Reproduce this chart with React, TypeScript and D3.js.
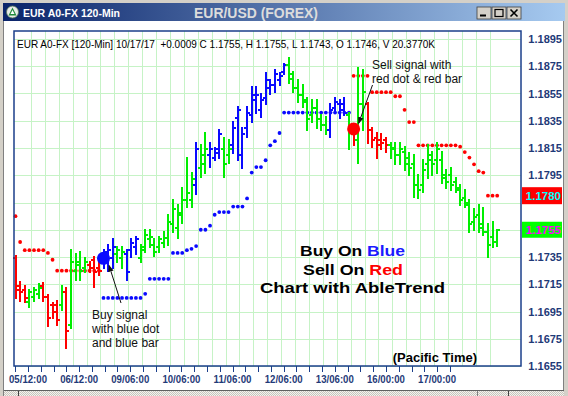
import * as d3 from 'd3';

const W = 568;
const H = 396;

// 120-min EUR/USD bars
const highs = [
  1.1736, 1.1717, 1.1714, 1.1711, 1.1712, 1.1715, 1.1716, 1.1707, 1.1701, 1.1703,
  1.1714, 1.1712, 1.1740, 1.1737, 1.1739, 1.1734, 1.1731, 1.1735, 1.1731, 1.1740,
  1.1744, 1.1748, 1.1742, 1.1742, 1.1740, 1.1748, 1.1750, 1.1744, 1.1755, 1.1755,
  1.1748, 1.1750, 1.1753, 1.1766, 1.1777, 1.1773, 1.1786, 1.1808, 1.1797, 1.1819,
  1.1817, 1.1826, 1.1819, 1.1815, 1.1828, 1.1822, 1.1821, 1.1834, 1.1845, 1.1830,
  1.1845, 1.1860, 1.1860, 1.1855, 1.1870, 1.1865, 1.1872, 1.1870, 1.1877, 1.1881,
  1.1871, 1.1865, 1.1861, 1.1852, 1.1850, 1.1850, 1.1839, 1.1838, 1.1847, 1.1852,
  1.1850, 1.1852, 1.1841, 1.1832, 1.1874, 1.1872, 1.1848, 1.1830, 1.1826, 1.1825,
  1.1822, 1.1819, 1.1819, 1.1819, 1.1816, 1.1811, 1.1810, 1.1795, 1.1806, 1.1817,
  1.1812, 1.1819, 1.1812, 1.1799, 1.1800, 1.1793, 1.1788, 1.1784, 1.1777, 1.1770,
  1.1773, 1.1771, 1.1759, 1.1761, 1.1755,
];
const lows = [
  1.1705, 1.1703, 1.1702, 1.1698, 1.1703, 1.1705, 1.1703, 1.1684, 1.1690, 1.1685,
  1.1696, 1.1668, 1.1683, 1.1718, 1.1718, 1.1724, 1.1724, 1.1713, 1.1722, 1.1727,
  1.1725, 1.1727, 1.1731, 1.1727, 1.1718, 1.1735, 1.1737, 1.1731, 1.1739, 1.1742,
  1.1736, 1.1739, 1.1742, 1.1744, 1.1753, 1.1749, 1.1760, 1.1772, 1.1772, 1.1781,
  1.1794, 1.1797, 1.1801, 1.1806, 1.1808, 1.1794, 1.1804, 1.1811, 1.1806, 1.1800,
  1.1823, 1.1834, 1.1841, 1.1838, 1.1847, 1.1855, 1.1856, 1.1861, 1.1869, 1.1863,
  1.1856, 1.1849, 1.1845, 1.1828, 1.1834, 1.1830, 1.1828, 1.1825, 1.1823, 1.1841,
  1.1837, 1.1839, 1.1814, 1.1817, 1.1804, 1.1828, 1.1819, 1.1816, 1.1808, 1.1814,
  1.1812, 1.1808, 1.1803, 1.1803, 1.1799, 1.1795, 1.1779, 1.1778, 1.1783, 1.1793,
  1.1795, 1.1797, 1.1789, 1.1786, 1.1784, 1.1783, 1.1773, 1.1772, 1.1753, 1.1755,
  1.1753, 1.1751, 1.1735, 1.1742, 1.1743,
];
const opens = [
  1.1734, 1.1714, 1.1711, 1.1702, 1.1706, 1.1708, 1.1714, 1.1706, 1.1700, 1.1700,
  1.1700, 1.1709, 1.1685, 1.1725, 1.1729, 1.1727, 1.1729, 1.1733, 1.1727, 1.1731,
  1.1731, 1.1734, 1.1737, 1.1734, 1.1737, 1.1740, 1.1742, 1.1734, 1.1742, 1.1748,
  1.1744, 1.1742, 1.1745, 1.1749, 1.1759, 1.1756, 1.1766, 1.1777, 1.1777, 1.1788,
  1.1800, 1.1803, 1.1810, 1.1808, 1.1814, 1.1814, 1.1810, 1.1817, 1.1837, 1.1810,
  1.1830, 1.1839, 1.1850, 1.1843, 1.1852, 1.1859, 1.1861, 1.1865, 1.1871, 1.1876,
  1.1866, 1.1859, 1.1854, 1.1849, 1.1839, 1.1844, 1.1836, 1.1832, 1.1828, 1.1844,
  1.1847, 1.1847, 1.1839, 1.1828, 1.1821, 1.1847, 1.1847, 1.1828, 1.1822, 1.1821,
  1.1821, 1.1817, 1.1815, 1.1810, 1.1812, 1.1808, 1.1803, 1.1788, 1.1788, 1.1803,
  1.1806, 1.1806, 1.1806, 1.1793, 1.1795, 1.1790, 1.1784, 1.1778, 1.1773, 1.1761,
  1.1766, 1.1759, 1.1753, 1.1750, 1.1746,
];
const closes = [
  1.1711, 1.1709, 1.1705, 1.1709, 1.1711, 1.1712, 1.1706, 1.1690, 1.1695, 1.1689,
  1.1709, 1.1681, 1.1731, 1.1731, 1.1725, 1.1731, 1.1727, 1.1724, 1.1725, 1.1739,
  1.1740, 1.1742, 1.1740, 1.1739, 1.1724, 1.1745, 1.1748, 1.1740, 1.1751, 1.1750,
  1.1739, 1.1748, 1.1749, 1.1761, 1.1770, 1.1767, 1.1777, 1.1782, 1.1792, 1.1814,
  1.1810, 1.1814, 1.1814, 1.1811, 1.1825, 1.1803, 1.1814, 1.1830, 1.1843, 1.1825,
  1.1841, 1.1854, 1.1854, 1.1850, 1.1865, 1.1861, 1.1869, 1.1868, 1.1876, 1.1869,
  1.1859, 1.1854, 1.1850, 1.1836, 1.1844, 1.1836, 1.1832, 1.1828, 1.1843, 1.1849,
  1.1843, 1.1841, 1.1830, 1.1821, 1.1847, 1.1856, 1.1828, 1.1821, 1.1817, 1.1819,
  1.1817, 1.1814, 1.1810, 1.1814, 1.1803, 1.1800, 1.1788, 1.1784, 1.1799, 1.1810,
  1.1803, 1.1814, 1.1795, 1.1790, 1.1788, 1.1786, 1.1777, 1.1775, 1.1759, 1.1764,
  1.1756, 1.1753, 1.1744, 1.1746, 1.1755,
];
// r = sell (red), g = neutral (green), b = buy (blue)
const barTrend = [
  'r', 'r', 'r', 'g', 'g', 'g', 'r', 'r', 'r', 'r',
  'g', 'r', 'g', 'g', 'g', 'g', 'r', 'r', 'r', 'b',
  'b', 'b', 'g', 'g', 'b', 'b', 'b', 'g', 'g', 'g',
  'g', 'g', 'g', 'g', 'g', 'g', 'g', 'g', 'g', 'b',
  'g', 'g', 'b', 'b', 'b', 'g', 'g', 'b', 'b', 'b',
  'b', 'b', 'b', 'b', 'b', 'b', 'b', 'b', 'b', 'g',
  'g', 'g', 'g', 'g', 'g', 'g', 'g', 'g', 'b', 'b',
  'b', 'b', 'g', 'r', 'g', 'g', 'r', 'r', 'r', 'r',
  'r', 'g', 'g', 'g', 'g', 'g', 'g', 'g', 'g', 'g',
  'g', 'g', 'g', 'g', 'g', 'g', 'g', 'g', 'g', 'g',
  'g', 'g', 'g', 'g', 'g',
];
// AbleTrend stop dots, one per bar
const stops = [
  1.1765, 1.1746, 1.1740, 1.1740, 1.1740, 1.1740, 1.1740, 1.1738, 1.1733, 1.1725,
  1.1725, 1.1725, 1.1725, 1.1725, 1.1725, 1.1725, 1.1725, 1.1725, 1.1725, 1.1705,
  1.1705, 1.1705, 1.1705, 1.1705, 1.1705, 1.1705, 1.1705, 1.1705, 1.1708, 1.1719,
  1.1719, 1.1719, 1.1719, 1.1719, 1.1738, 1.1738, 1.1738, 1.1740, 1.1741, 1.1743,
  1.1755, 1.1755, 1.1758, 1.1766, 1.1768, 1.1768, 1.1768, 1.1772, 1.1772, 1.1772,
  1.1778, 1.1797, 1.1801, 1.1801, 1.1806, 1.1817, 1.1820, 1.1826, 1.1841, 1.1841,
  1.1841, 1.1841, 1.1841, 1.1841, 1.1841, 1.1841, 1.1841, 1.1841, 1.1841, 1.1841,
  1.1841, 1.1841, 1.1841, 1.1868, 1.1868, 1.1868, 1.1868, 1.1856, 1.1856, 1.1856,
  1.1856, 1.1856, 1.1853, 1.1853, 1.1843, 1.1834, 1.1834, 1.1817, 1.1817, 1.1817,
  1.1817, 1.1817, 1.1817, 1.1817, 1.1817, 1.1817, 1.1816, 1.1812, 1.1808, 1.1803,
  1.1798, 1.1797, 1.1780, 1.1780, 1.1780,
];
const buySignal = { index: 19, price: 1.1734 };
const sellSignal = { index: 73, price: 1.1829 };

const priceTicks = [1.1655, 1.1675, 1.1695, 1.1715, 1.1735, 1.1755, 1.1775, 1.1795, 1.1815, 1.1835, 1.1855, 1.1875, 1.1895];
const lastStop = 1.178;
const lastClose = 1.1755;
const timeLabels = ['05/12:00', '06/12:00', '09/06:00', '10/06:00', '11/06:00', '12/06:00', '13/06:00', '16/00:00', '17/00:00'];
const infoLine = 'EUR A0-FX [120-Min] 10/17/17  +0.0009 C 1.1755, H 1.1755, L 1.1743, O 1.1746, V 20.3770K';

const plot = { left: 14, top: 31, right: 521, bottom: 366 };
const x = d3.scaleLinear().domain([0, highs.length - 1]).range([15.5, 497.2]);
const y = d3.scaleLinear().domain([1.1655, 1.1895]).range([366, 39]);

const colors: Record<string, string> = { r: '#ff0000', g: '#00ee00', b: '#0a0aff' };
const axisBlue = '#1f3a78';
const font = '"Liberation Sans", Arial, sans-serif';

// labels every 11.04 bars, minor ticks every quarter of that
const labelStep = 11.04;
const labelStart = 2.7;
const minorTicks = d3.range(35).map(j => labelStart + (labelStep / 4) * (j - 1));
const gridCols = d3.range(1, 35).map(k => 0.35 + 3 * k);

const App = () => {
  const stopColor = (i: number) =>
    i < buySignal.index ? colors.r : i < sellSignal.index ? colors.b : colors.r;

  const visibleTicks = priceTicks.filter(
    t => Math.abs(y(t) - y(lastStop)) > 12 && Math.abs(y(t) - y(lastClose)) > 12
  );

  return (
    <svg width={W} height={H} style={{ position: 'fixed', left: 0, top: 0, display: 'block' }} fontFamily={font}>
      <defs>
        <linearGradient id="title" x1="0" x2="1" y1="0" y2="0">
          <stop offset="0" stopColor="#0a246a" />
          <stop offset="1" stopColor="#a6caf0" />
        </linearGradient>
        <pattern id="dither" width="2" height="2" patternUnits="userSpaceOnUse">
          <rect width="2" height="2" fill="#f4f2ee" />
          <rect width="1" height="1" fill="#c8c5bd" />
          <rect x="1" y="1" width="1" height="1" fill="#c8c5bd" />
        </pattern>
        <marker id="head" viewBox="0 0 10 10" refX="9" refY="5" markerWidth="7" markerHeight="7" orient="auto">
          <path d="M0,1 L10,5 L0,9 z" fill="#111" />
        </marker>
      </defs>

      {/* window frame */}
      <rect width={W} height={H} fill="#ffffff" />
      <rect x={0} y={0} width={W} height={3} fill="#d4d0c8" />
      <rect x={0} y={0} width={4} height={H} fill="#d4d0c8" />
      <line x1={3.5} x2={3.5} y1={21} y2={H} stroke="#808080" />
      <rect x={W - 4} y={0} width={4} height={H} fill="#d4d0c8" />
      <line x1={W - 4.5} x2={W - 4.5} y1={21} y2={H} stroke="#808080" />

      {/* title bar */}
      <rect x={3} y={3} width={W - 6} height={18} fill="url(#title)" />
      <circle cx={12.5} cy={12} r={6} fill="#e8ece8" stroke="#5a7a5a" strokeWidth={0.8} />
      <path d="M12.5,7.5 L16.5,15.5 L8.5,15.5 z" fill="#1e8a3a" />
      <path d="M12.5,10 L14.5,14 L10.5,14 z" fill="#ffffff" />
      <text x={23} y={17} fill="#ffffff" fontSize={11} fontWeight="bold" textLength={97} lengthAdjust="spacingAndGlyphs">EUR A0-FX 120-Min</text>
      <text x={194} y={18} fill="#dcdcdc" fontSize={14} fontWeight="bold" textLength={124} lengthAdjust="spacingAndGlyphs">EUR/USD (FOREX)</text>
      {[477, 492, 507].map((bx, k) => (
        <g key={bx}>
          <rect x={bx} y={7} width={14} height={12} fill="#d4d0c8" stroke="#404040" strokeWidth={0.8} />
          {k === 0 && <rect x={bx + 3} y={14.5} width={6} height={2} fill="#000" />}
          {k === 1 && <rect x={bx + 3} y={9.5} width={8} height={7} fill="none" stroke="#000" strokeWidth={1.2} />}
          {k === 2 && <path d={`M${bx + 3.5},9.5 L${bx + 10.5},16.5 M${bx + 10.5},9.5 L${bx + 3.5},16.5`} stroke="#000" strokeWidth={1.6} />}
        </g>
      ))}

      {/* plot grid */}
      {priceTicks.map(t => (
        <line key={t} x1={plot.left} x2={plot.right} y1={Math.round(y(t)) + 0.5} y2={Math.round(y(t)) + 0.5} stroke="#c6f3c6" />
      ))}
      {gridCols.map(g => (
        <line key={g} x1={Math.round(x(g)) + 0.5} x2={Math.round(x(g)) + 0.5} y1={plot.top} y2={plot.bottom} stroke="#c6f3c6" />
      ))}

      <text x={17} y={48} fontSize={11} fill="#000" textLength={418} lengthAdjust="spacingAndGlyphs" style={{ whiteSpace: 'pre' }}>{infoLine}</text>

      {/* stop dots */}
      {stops.map((s, i) => (
        <circle key={'s' + i} cx={x(i)} cy={y(s)} r={1.9} fill={stopColor(i)} />
      ))}

      {/* OHLC bars */}
      {highs.map((h, i) => {
        const cx = Math.round(x(i));
        const c = colors[barTrend[i]];
        const yo = Math.round(y(opens[i]));
        const yc = Math.round(y(closes[i]));
        return (
          <g key={'b' + i} stroke={c} strokeWidth={2} shapeRendering="crispEdges">
            <line x1={cx} x2={cx} y1={y(h) - 1} y2={y(lows[i]) + 1} />
            <line x1={cx - 3} x2={cx} y1={yo} y2={yo} />
            <line x1={cx} x2={cx + 3} y1={yc} y2={yc} />
          </g>
        );
      })}

      {/* signals */}
      <circle cx={x(buySignal.index)} cy={y(buySignal.price)} r={6.5} fill={colors.b} />
      <circle cx={x(sellSignal.index)} cy={y(sellSignal.price)} r={6.5} fill={colors.r} />

      {/* annotations */}
      <g fontSize={12} fill="#111">
        <text x={372} y={68.5}>Sell signal with</text>
        <text x={372} y={83}>red dot &amp; red bar</text>
        <text x={92} y={319}>Buy signal</text>
        <text x={92} y={333}>with blue dot</text>
        <text x={92} y={346.5}>and blue bar</text>
      </g>
      <line x1={372.5} y1={85} x2={x(sellSignal.index) + 5} y2={y(sellSignal.price) - 5.5} stroke="#111" strokeWidth={1} markerEnd="url(#head)" />
      <line x1={121} y1={303} x2={x(buySignal.index) + 5.5} y2={y(buySignal.price) + 7} stroke="#111" strokeWidth={1} markerEnd="url(#head)" />

      <g fontSize={15.5} fontWeight="bold" fill="#000" lengthAdjust="spacingAndGlyphs">
        <text x={300} y={256} textLength={105} lengthAdjust="spacingAndGlyphs">Buy On <tspan fill="#1a1aff">Blue</tspan></text>
        <text x={303} y={274.5} textLength={100} lengthAdjust="spacingAndGlyphs">Sell On <tspan fill="#ff0000">Red</tspan></text>
        <text x={260} y={293} textLength={185} lengthAdjust="spacingAndGlyphs">Chart with AbleTrend</text>
      </g>
      <text x={477} y={362} fontSize={13} fontWeight="bold" textAnchor="end" fill="#000">(Pacific Time)</text>

      {/* plot border */}
      <rect x={plot.left} y={plot.top} width={plot.right - plot.left} height={plot.bottom - plot.top} fill="none" stroke="#1b3f8b" strokeWidth={1.5} />

      {/* price axis */}
      {visibleTicks.map(t => (
        <text key={'l' + t} x={562} y={y(t) + 4} fontSize={11} fontWeight="bold" textAnchor="end" fill={axisBlue}>{t.toFixed(4)}</text>
      ))}
      <rect x={522} y={y(lastStop) - 8.5} width={40} height={17} fill="#ff0000" />
      <text x={561} y={y(lastStop) + 4} fontSize={11.5} fontWeight="bold" textAnchor="end" fill="#00ffff">{lastStop.toFixed(4)}</text>
      <rect x={522} y={y(lastClose) - 8} width={40} height={16} fill="#00ff00" />
      <text x={561} y={y(lastClose) + 4} fontSize={11.5} fontWeight="bold" textAnchor="end" fill="#ff00ff">{lastClose.toFixed(4)}</text>

      {/* time axis */}
      {minorTicks.map(t => (
        <line key={'t' + t} x1={Math.round(x(t)) + 0.5} x2={Math.round(x(t)) + 0.5} y1={plot.bottom} y2={plot.bottom + 6} stroke="#1b3f8b" />
      ))}
      {timeLabels.map((lab, k) => (
        <text key={lab} x={x(labelStart + labelStep * k)} y={383} fontSize={10.5} fontWeight="bold" textAnchor="middle" fill={axisBlue} textLength={38} lengthAdjust="spacingAndGlyphs">{lab}</text>
      ))}

      {/* scroll bar */}
      <rect x={4} y={390} width={W - 8} height={6} fill="url(#dither)" />
      <line x1={4} x2={W - 4} y1={390.5} y2={390.5} stroke="#606060" />
      <line x1={18.5} x2={18.5} y1={391} y2={H} stroke="#404040" />
      <line x1={477.5} x2={477.5} y1={391} y2={H} stroke="#808080" />
      <line x1={508.5} x2={508.5} y1={391} y2={H} stroke="#404040" />
    </svg>
  );
};

export default App;
